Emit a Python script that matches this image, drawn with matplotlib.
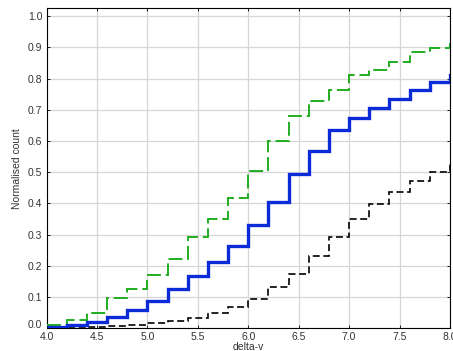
import numpy as np
import matplotlib
matplotlib.use('Agg')
import matplotlib.pyplot as plt
import matplotlib.transforms as mtransforms

# bin edges of the cumulative histograms (last bin runs past the x-limit)
edges = [4.0, 4.2, 4.4, 4.6, 4.8, 5.0, 5.2, 5.4, 5.6, 5.8, 6.0,
         6.2, 6.4, 6.6, 6.8, 7.0, 7.2, 7.4, 7.6, 7.8, 8.0, 8.2]

green_vals = [0.010, 0.026, 0.048, 0.096, 0.126, 0.171, 0.223, 0.292, 0.349, 0.418,
              0.503, 0.599, 0.679, 0.728, 0.763, 0.810, 0.828, 0.854, 0.884, 0.898, 0.911]
blue_vals = [0.005, 0.010, 0.020, 0.037, 0.058, 0.087, 0.127, 0.168, 0.213, 0.265,
             0.332, 0.405, 0.493, 0.569, 0.636, 0.674, 0.706, 0.734, 0.764, 0.788, 0.810]
black_vals = [0.000, 0.000, 0.003, 0.006, 0.012, 0.018, 0.023, 0.034, 0.050, 0.068,
              0.094, 0.131, 0.173, 0.231, 0.291, 0.350, 0.399, 0.437, 0.472, 0.502, 0.535]

xticks = [4.0, 4.5, 5.0, 5.5, 6.0, 6.5, 7.0, 7.5, 8.0]
yticks = [0.0, 0.1, 0.2, 0.3, 0.4, 0.5, 0.6, 0.7, 0.8, 0.9, 1.0]

plt.rcParams['font.family'] = ['Liberation Sans', 'DejaVu Sans']
plt.rcParams['lines.scale_dashes'] = False

fig = plt.figure(figsize=(4.53, 3.51), dpi=100)
ax = fig.add_axes([0.1027, 0.0647, 0.8906, 0.9117])

ax.grid(True, color='#d6d6d6', linewidth=0.9, zorder=0)
ax.set_axisbelow(True)

ax.stairs(black_vals, edges, baseline=None, color='black', linewidth=1.2,
          linestyle=(0, (5, 2.6)), zorder=3)
ax.stairs(green_vals, edges, baseline=None, color='#1fae1f', linewidth=1.4,
          linestyle=(0, (10, 3.5)), zorder=3)
ax.stairs(blue_vals, edges, baseline=None, color='#0b2bd8', linewidth=2.4, zorder=4)

ax.set_xlim(4.0, 8.0)
ax.set_ylim(0.0, 1.025)
ax.set_xticks(xticks)
ax.set_yticks(yticks)
ax.set_xticklabels([f'{t:.1f}' for t in xticks])
ax.set_yticklabels([f'{t:.1f}' for t in yticks])
ax.tick_params(direction='in', top=True, right=True, length=2.5, width=0.6,
               labelsize=7.5, labelcolor='#333333', pad=3)
for s in ax.spines.values():
    s.set_linewidth(0.8)

# the 0.0 label sits a little above its tick in the original
lbl0 = ax.get_yticklabels()[0]
lbl0.set_transform(lbl0.get_transform() + mtransforms.ScaledTranslation(0, 4 / 100, fig.dpi_scale_trans))

ax.set_xlabel('delta-v', fontsize=7.5, color='#333333', labelpad=0)
ax.set_ylabel('Normalised count', fontsize=7.5, color='#333333', labelpad=4)

fig.savefig('out.png', dpi=100)
